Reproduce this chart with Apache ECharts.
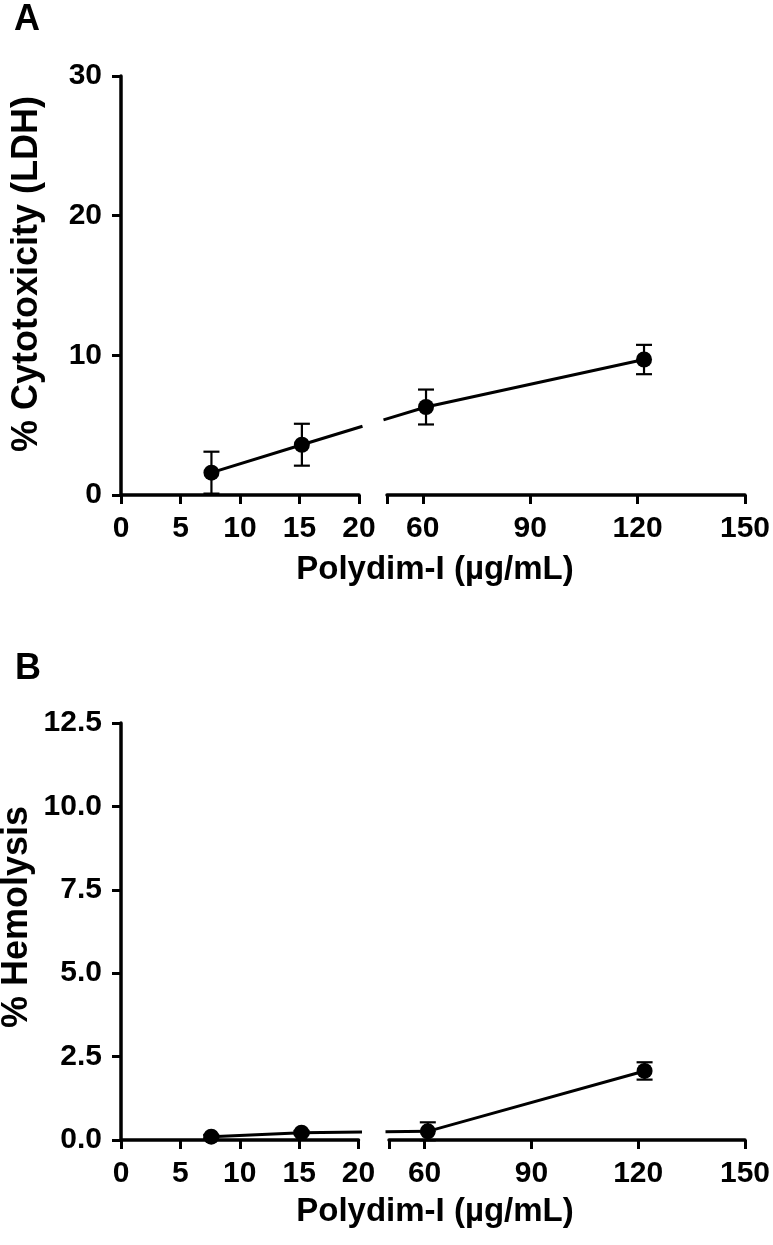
<!DOCTYPE html>
<html>
<head>
<meta charset="utf-8">
<script src="https://cdn.jsdelivr.net/npm/echarts@6/dist/echarts.min.js"></script>
<style>html,body{margin:0;padding:0;background:#fff}#chart{width:773px;height:1245px}</style>
</head>
<body>
<div id="chart"></div>
<script>
// ---- data ----
const conc = [7.6, 15.2, 60.9, 121.8];            // Polydim-I (µg/mL)
const cytoMean = [1.6, 3.6, 6.3, 9.7];            // % Cytotoxicity (LDH)
const cytoErr  = [1.5, 1.5, 1.25, 1.05];
const hemoMean = [0.1, 0.22, 0.26, 2.07];         // % Hemolysis
const hemoErr  = [0.05, 0.05, 0.27, 0.26];
const xTicksLeft = [0, 5, 10, 15, 20];
const xTicksRight = [60, 90, 120, 150];
const xTickRightStart = [50];
const yTicksA = [0, 10, 20, 30];
const yTicksB = [0, 2.5, 5, 7.5, 10, 12.5];

const FONT = 'Liberation Sans, Arial, Helvetica, sans-serif';
const chart = echarts.init(document.getElementById('chart'), null, {renderer: 'canvas'});

const grids = [
  {left: 121, top: 76, width: 238, height: 419},      // A left
  {left: 387, top: 76, width: 361.5, height: 419},    // A right
  {left: 121, top: 723, width: 237.5, height: 417},   // B left
  {left: 389, top: 723, width: 358, height: 417}      // B right
];

const axisLine = {show: true, onZero: false, lineStyle: {color: '#000', width: 3.5}};
const axisTick = {show: true, length: 9, lineStyle: {color: '#000', width: 3}};
const labelStyle = {color: '#000', fontFamily: FONT, fontWeight: 'bold', fontSize: 30};

const leftMax = xTicksLeft[xTicksLeft.length - 1];
const rightMin = xTickRightStart[0];

function xLeft(gi) {
  return {
    type: 'value', gridIndex: gi, min: xTicksLeft[0], max: leftMax,
    interval: xTicksLeft[1] - xTicksLeft[0],
    axisLine, axisTick, splitLine: {show: false},
    axisLabel: Object.assign({margin: 19}, labelStyle)
  };
}
function xRight(gi) {
  const ticks = xTickRightStart.concat(xTicksRight);
  return {
    type: 'value', gridIndex: gi, min: rightMin, max: xTicksRight[xTicksRight.length - 1],
    axisLine,
    axisTick: Object.assign({customValues: ticks}, axisTick),
    splitLine: {show: false},
    axisLabel: Object.assign({margin: 19, customValues: xTicksRight}, labelStyle)
  };
}
function yAx(gi, ticks, show, fmt) {
  return {
    type: 'value', gridIndex: gi, min: ticks[0], max: ticks[ticks.length - 1],
    interval: ticks[1] - ticks[0], show: show,
    axisLine, axisTick, splitLine: {show: false},
    axisLabel: Object.assign({margin: 19, formatter: fmt}, labelStyle)
  };
}

function errRender(params, api) {
  const x = api.value(0), lo = api.value(1), hi = api.value(2);
  const a = api.coord([x, lo]), b = api.coord([x, hi]);
  const hw = 8;
  const st = {stroke: '#000', lineWidth: 2.2};
  return {type: 'group', children: [
    {type: 'line', shape: {x1: a[0], y1: a[1], x2: b[0], y2: b[1]}, style: st},
    {type: 'line', shape: {x1: b[0] - hw, y1: b[1], x2: b[0] + hw, y2: b[1]}, style: st},
    {type: 'line', shape: {x1: a[0] - hw, y1: a[1], x2: a[0] + hw, y2: a[1]}, style: st}
  ]};
}

const inLeft = x => x <= leftMax;
const inRight = x => x >= rightMin;

function seriesFor(gi, mean, err, inRange) {
  const pts = conc.map((x, i) => [x, mean[i]]).filter(d => inRange(d[0]));
  const eb = conc.map((x, i) => [x, mean[i] - err[i], mean[i] + err[i]]).filter(d => inRange(d[0]));
  return [
    {type: 'custom', xAxisIndex: gi, yAxisIndex: gi, data: eb, renderItem: errRender, z: 3, silent: true},
    {type: 'scatter', xAxisIndex: gi, yAxisIndex: gi, data: pts, symbol: 'circle', symbolSize: 16,
     itemStyle: {color: '#000', opacity: 1}, z: 4, silent: true}
  ];
}

chart.setOption({
  animation: false,
  backgroundColor: '#fff',
  grid: grids,
  xAxis: [xLeft(0), xRight(1), xLeft(2), xRight(3)],
  yAxis: [
    yAx(0, yTicksA, true, v => String(v)),
    yAx(1, yTicksA, false, v => String(v)),
    yAx(2, yTicksB, true, v => v.toFixed(1)),
    yAx(3, yTicksB, false, v => v.toFixed(1))
  ],
  series: [].concat(
    seriesFor(0, cytoMean, cytoErr, inLeft),
    seriesFor(1, cytoMean, cytoErr, inRight),
    seriesFor(2, hemoMean, hemoErr, inLeft),
    seriesFor(3, hemoMean, hemoErr, inRight)
  )
});

// Connecting line drawn in screen space across the axis break (as in the original),
// using the library's own scales (convertToPixel) for every point.
function connectLines(gL, gR, mean) {
  const px = conc.map((x, i) => chart.convertToPixel({gridIndex: inLeft(x) ? gL : gR}, [x, mean[i]]));
  const edgeL = chart.convertToPixel({gridIndex: gL}, [leftMax, 0])[0] + 3.5;
  const edgeR = chart.convertToPixel({gridIndex: gR}, [rightMin, 0])[0] - 3.5;
  const pieces = [];
  let cur = [px[0]];
  for (let i = 1; i < px.length; i++) {
    const a = px[i - 1], b = px[i];
    if (inLeft(conc[i - 1]) && inRight(conc[i])) {
      const at = xx => [xx, a[1] + (b[1] - a[1]) * (xx - a[0]) / (b[0] - a[0])];
      cur.push(at(edgeL));
      pieces.push(cur);
      cur = [at(edgeR), b];
    } else {
      cur.push(b);
    }
  }
  pieces.push(cur);
  return pieces.map(p => ({type: 'polyline', shape: {points: p}, z: 1,
    style: {stroke: '#000', lineWidth: 3, fill: null}, silent: true}));
}

function txt(x, y, text, size, rot) {
  return {type: 'text', x: x, y: y, rotation: rot || 0, z: 5,
    style: {text: text, font: 'bold ' + size + 'px ' + FONT, fill: '#000', align: 'center', verticalAlign: 'middle'}};
}

chart.setOption({
  graphic: [
    txt(27, 20, 'A', 36),
    txt(28, 669, 'B', 36),
    txt(27, 274, '% Cytotoxicity (LDH)', 36, Math.PI / 2),
    txt(17, 917, '% Hemolysis', 36, Math.PI / 2),
    txt(435, 570, 'Polydim-I (\u00b5g/mL)', 33),
    txt(435, 1212, 'Polydim-I (\u00b5g/mL)', 33)
  ].concat(connectLines(0, 1, cytoMean), connectLines(2, 3, hemoMean))
});
</script>
</body>
</html>
